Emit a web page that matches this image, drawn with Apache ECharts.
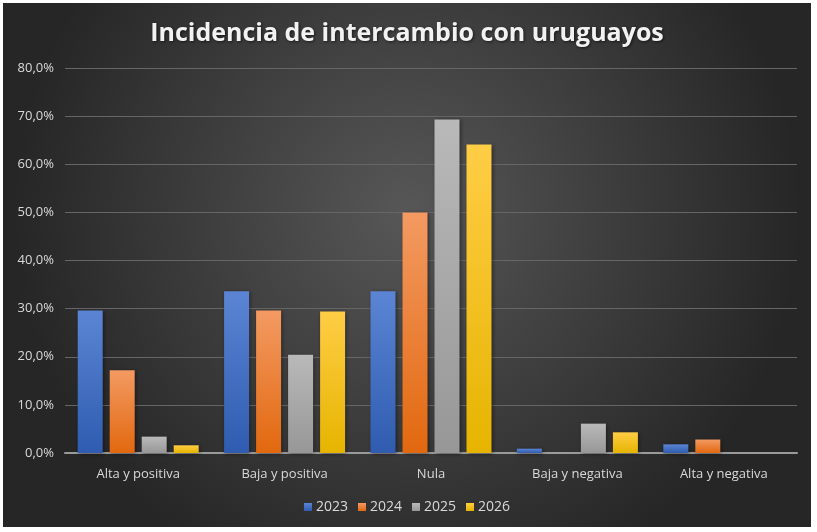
<!DOCTYPE html>
<html>
<head>
<meta charset="utf-8">
<script src="https://cdn.jsdelivr.net/npm/echarts@6/dist/echarts.min.js"></script>
<style>
  html, body { margin: 0; padding: 0; background: #ffffff; }
  #sheet { position: absolute; left: 0; top: 0; width: 817px; height: 532px; }
  #chart { position: absolute; left: 3px; top: 3px; width: 808px; height: 524px; }
</style>
</head>
<body>
<div id="sheet"></div>
<div id="chart"></div>
<script>
// categorias y valores (%)
var categorias = ['Alta y positiva', 'Baja y positiva', 'Nula', 'Baja y negativa', 'Alta y negativa'];
var anios = ['2023', '2024', '2025', '2026'];
var v2023 = [29.6, 33.6, 33.6, 0.9, 1.8];
var v2024 = [17.2, 29.6, 50.0, 0, 2.8];
var v2025 = [3.4, 20.4, 69.3, 6.1, 0];
var v2026 = [1.6, 29.4, 64.1, 4.3, 0];

var myChart = echarts.init(document.getElementById('chart'));

function grad(top, bottom) {
    return new echarts.graphic.LinearGradient(0, 0, 0, 1, [
        { offset: 0, color: top },
        { offset: 1, color: bottom }
    ]);
}

function serie(name, data, top, bottom) {
    return {
        name: name,
        type: 'bar',
        data: data,
        barWidth: 25,
        barGap: '28%',
        itemStyle: {
            color: grad(top, bottom),
            shadowColor: 'rgba(0,0,0,0.45)',
            shadowBlur: 4,
            shadowOffsetX: 1,
            shadowOffsetY: 1
        }
    };
}

var option = {
    backgroundColor: {
        type: 'radial', x: 0.5, y: 0.4, r: 0.75,
        colorStops: [
            { offset: 0, color: '#575757' },
            { offset: 1, color: '#262626' }
        ]
    },
    animation: false,
    title: {
        text: 'Incidencia de intercambio con uruguayos',
        left: 'center',
        top: 13,
        textStyle: {
            color: '#f2f2f2',
            fontFamily: 'Open Sans',
            fontWeight: 'bold',
            fontSize: 25,
            textShadowColor: 'rgba(0,0,0,0.6)',
            textShadowBlur: 3,
            textShadowOffsetX: 1,
            textShadowOffsetY: 1
        }
    },
    legend: {
        data: anios,
        bottom: 8,
        left: 'center',
        itemWidth: 8,
        itemHeight: 8,
        itemGap: 10,
        icon: 'rect',
        textStyle: { color: '#d9d9d9', fontSize: 14, fontFamily: 'Open Sans', padding: [0, 0, 0, -1] }
    },
    grid: { left: 62, right: 14, top: 65, bottom: 74 },
    xAxis: {
        type: 'category',
        data: categorias,
        axisLine: { lineStyle: { color: '#9a9a9a', width: 2 } },
        axisTick: { show: false },
        axisLabel: { color: '#d9d9d9', fontSize: 13, fontFamily: 'Open Sans', margin: 15 }
    },
    yAxis: {
        type: 'value',
        min: 0,
        max: 80,
        interval: 10,
        axisLine: { show: false },
        axisTick: { show: false },
        splitLine: { lineStyle: { color: '#666666', width: 1 } },
        axisLabel: {
            color: '#d9d9d9', fontSize: 13, fontFamily: 'Open Sans', margin: 11,
            formatter: function (v) { return v.toFixed(1).replace('.', ',') + '%'; }
        }
    },
    color: ['#4472c4', '#ed7d31', '#a5a5a5', '#ffc000'],
    series: [
        serie('2023', v2023, '#5b85d4', '#2f5cb0'),
        serie('2024', v2024, '#f39a62', '#e2680f'),
        serie('2025', v2025, '#b9b9b9', '#979797'),
        serie('2026', v2026, '#ffcd45', '#e6b400')
    ]
};
myChart.setOption(option);
</script>
</body>
</html>
